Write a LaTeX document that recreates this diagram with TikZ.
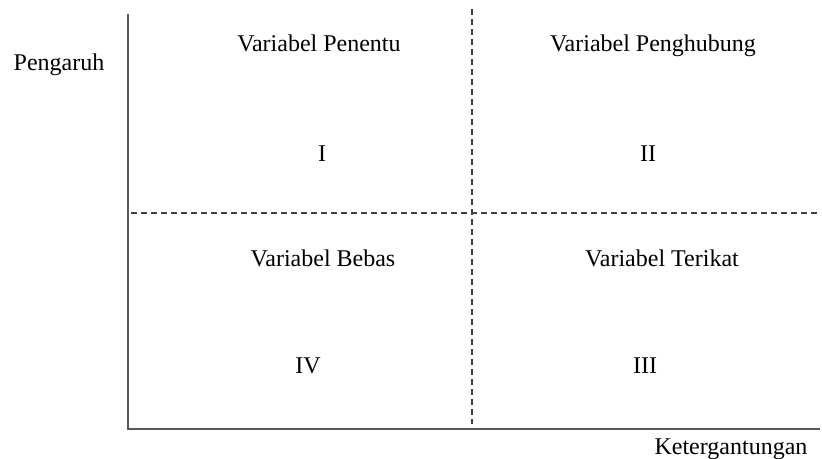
\documentclass[tikz,border=0pt]{standalone}
\usepackage{fontspec}
\setmainfont{Liberation Serif}
\begin{document}
\begin{tikzpicture}[x=1pt,y=-1pt,
  axis/.style={draw=black!65,line width=2pt},
  divider/.style={draw=black!75,line width=1.6pt,dash pattern=on 6pt off 4pt},
  lbl/.style={anchor=base,inner sep=0pt,font=\fontsize{24}{28}\selectfont,text=black}]
  \useasboundingbox (0,0) rectangle (822,458);
  % axes
  \coordinate (top) at (128,14);
  \coordinate (origin) at (128,429);
  \coordinate (right) at (820,429);
  \draw[axis] (top) -- (origin) -- (right);
  % quadrant dividers
  \coordinate (vtop) at (472,9);
  \coordinate (vbot) at (472,424);
  \coordinate (hleft) at (131,213);
  \coordinate (hright) at (819,213);
  \draw[divider] (vtop) -- (vbot);
  \draw[divider] (hleft) -- (hright);
  % axis titles
  \node[lbl] (yt) at (59,70) {Pengaruh};
  \node[lbl] (xt) at (731,454) {Ketergantungan};
  % quadrant labels
  \node[lbl] (q1) at (319,51) {Variabel Penentu};
  \node[lbl] (q2) at (653,51) {Variabel Penghubung};
  \node[lbl] (n1) at (322,161) {I};
  \node[lbl] (n2) at (648,161) {II};
  \node[lbl] (q4) at (323,266) {Variabel Bebas};
  \node[lbl] (q3) at (662,266) {Variabel Terikat};
  \node[lbl] (n4) at (308,373) {IV};
  \node[lbl] (n3) at (645,373) {III};
\end{tikzpicture}
\end{document}
